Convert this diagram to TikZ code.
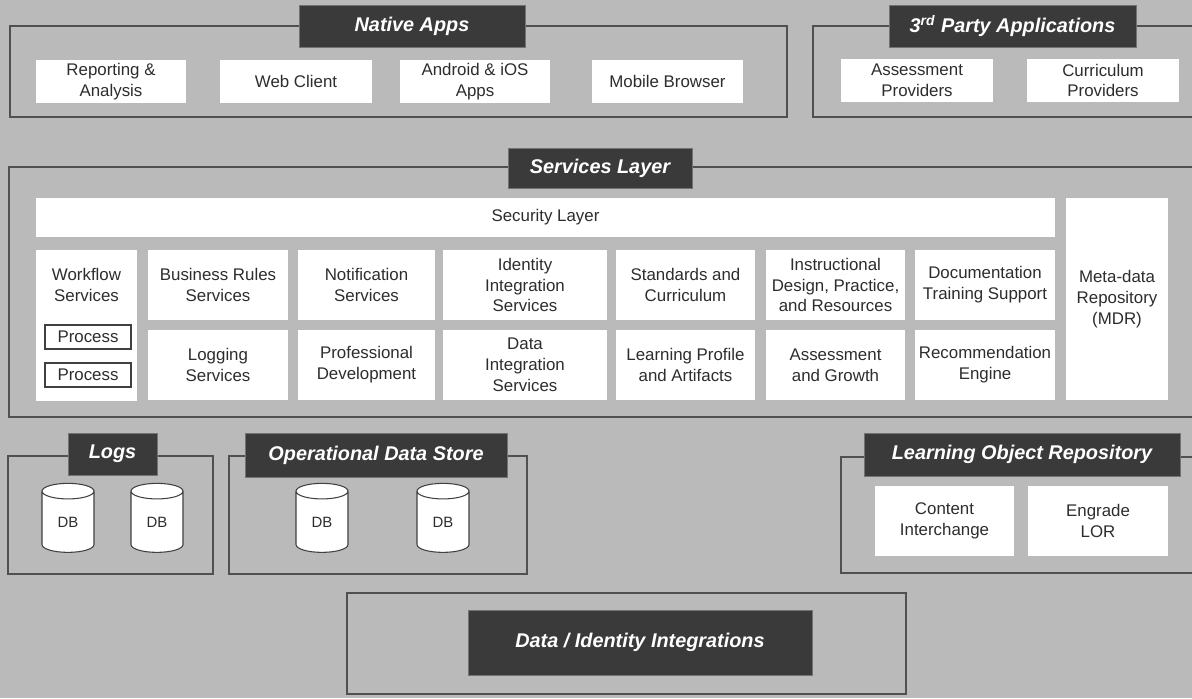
\documentclass[tikz,border=0pt]{standalone}
\usepackage{fontspec}
\setmainfont{Liberation Sans}
\usetikzlibrary{shapes.geometric}
\definecolor{bg}{RGB}{186,186,186}
\definecolor{hdr}{RGB}{58,58,58}
\definecolor{frm}{RGB}{80,80,80}
\definecolor{txt}{RGB}{45,45,45}
\tikzset{
  wbox/.style={fill=white, draw=none, align=center, inner sep=0pt, text=txt,
    font=\fontsize{9.6}{11.9}\selectfont},
  frame/.style={draw=frm, line width=0.7pt, fill=none, inner sep=0pt},
  hdrbox/.style={fill=hdr, draw=black!55, line width=0.5pt, text=white, inner sep=0pt,
    font=\fontsize{11.3}{13}\selectfont\bfseries\itshape},
  procbox/.style={fill=white, draw=black!75, line width=0.6pt, align=center, inner sep=0pt,
    text=txt, font=\fontsize{9.6}{11.9}\selectfont},
  dbnode/.style={cylinder, shape border rotate=90, aspect=0.75, draw=black!75, line width=0.6pt,
    fill=white, inner sep=0pt, text=txt, font=\fontsize{8.5}{10}\selectfont,
    minimum width=52*0.02cm, minimum height=69*0.02cm}
}
\newcommand\BX[7]{\node[#1, minimum width={(#5-#3)*0.02cm}, minimum height={(#6-#4)*0.02cm}] (#2) at ({(#3+#5)/2},{(#4+#6)/2}) {#7};}
\begin{document}
\begin{tikzpicture}[x=0.02cm,y=-0.02cm]
\fill[bg] (0,0) rectangle (1192,698);
\useasboundingbox (0,0) rectangle (1192,698);
% frames
\BX{frame}{fna}{10}{26}{787}{117}{}
\BX{frame}{ftp}{813}{26}{1196}{117}{}
\BX{frame}{fsl}{9}{167}{1196}{417}{}
\BX{frame}{flg}{8}{456}{213}{574}{}
\BX{frame}{fod}{229}{456}{527}{574}{}
\BX{frame}{flr}{841}{457}{1196}{573}{}
\BX{frame}{fdi}{347}{593}{906}{694}{}
% headers
\BX{hdrbox}{hna}{299}{5}{525}{47}{Native Apps}
\BX{hdrbox}{htp}{889}{5}{1136}{47}{3\textsuperscript{rd} Party Applications}
\BX{hdrbox}{hsl}{508}{148}{692}{188}{Services Layer}
\BX{hdrbox}{hlg}{68}{433}{157}{475}{Logs}
\BX{hdrbox}{hod}{245}{433}{507}{477}{Operational Data Store}
\BX{hdrbox}{hlr}{864}{433}{1180}{476}{Learning Object Repository}
\BX{hdrbox}{hdi}{468}{610}{812}{675}{Data / Identity Integrations}
% native apps
\BX{wbox}{ra}{36}{60}{186}{103}{Reporting \&\\Analysis}
\BX{wbox}{wc}{220}{60}{372}{103}{Web Client}
\BX{wbox}{ai}{400}{60}{550}{103}{Android \& iOS\\Apps}
\BX{wbox}{mb}{592}{60}{743}{103}{Mobile Browser}
% third party
\BX{wbox}{ap}{841}{59}{993}{102}{Assessment\\Providers}
\BX{wbox}{cp}{1027}{59}{1179}{102}{Curriculum\\Providers}
% services layer
\BX{wbox}{sec}{36}{198}{1055}{237}{Security Layer}
\BX{wbox}{mdr}{1066}{198}{1168}{400}{Meta-data\\Repository\\(MDR)}
\node[wbox, minimum width=101*0.02cm, minimum height=151*0.02cm] (wf) at (86.5,325) {};
\node[wbox, anchor=center] (wft) at (86.5,285) {Workflow\\Services};
\BX{procbox}{p1}{45}{325}{131}{349}{Process}
\BX{procbox}{p2}{45}{363}{131}{387}{Process}
\BX{wbox}{br}{148}{250}{288}{320}{Business Rules\\Services}
\BX{wbox}{ns}{298}{250}{435}{320}{Notification\\Services}
\BX{wbox}{iis}{443}{250}{607}{320}{Identity\\Integration\\Services}
\BX{wbox}{sc}{616}{250}{755}{320}{Standards and\\Curriculum}
\BX{wbox}{id}{766}{250}{905}{320}{Instructional\\Design, Practice,\\and Resources}
\BX{wbox}{dt}{915}{250}{1055}{320}{Documentation\\Training Support}
\BX{wbox}{ls}{148}{330}{288}{400}{Logging\\Services}
\BX{wbox}{pd}{298}{330}{435}{400}{Professional\\Development}
\BX{wbox}{dis}{443}{330}{607}{400}{Data\\Integration\\Services}
\BX{wbox}{lp}{616}{330}{755}{400}{Learning Profile\\and Artifacts}
\BX{wbox}{ag}{766}{330}{905}{400}{Assessment\\and Growth}
\BX{wbox}{re}{915}{330}{1055}{400}{Recommendation\\Engine}
% databases
\node[dbnode] (db1) at (68,522) {DB};
\node[dbnode] (db2) at (157,522) {DB};
\node[dbnode] (db3) at (322,522) {DB};
\node[dbnode] (db4) at (443,522) {DB};
% LOR
\BX{wbox}{ci}{875}{486}{1014}{556}{Content\\Interchange}
\BX{wbox}{el}{1028}{486}{1168}{556}{Engrade\\LOR}
\end{tikzpicture}
\end{document}
